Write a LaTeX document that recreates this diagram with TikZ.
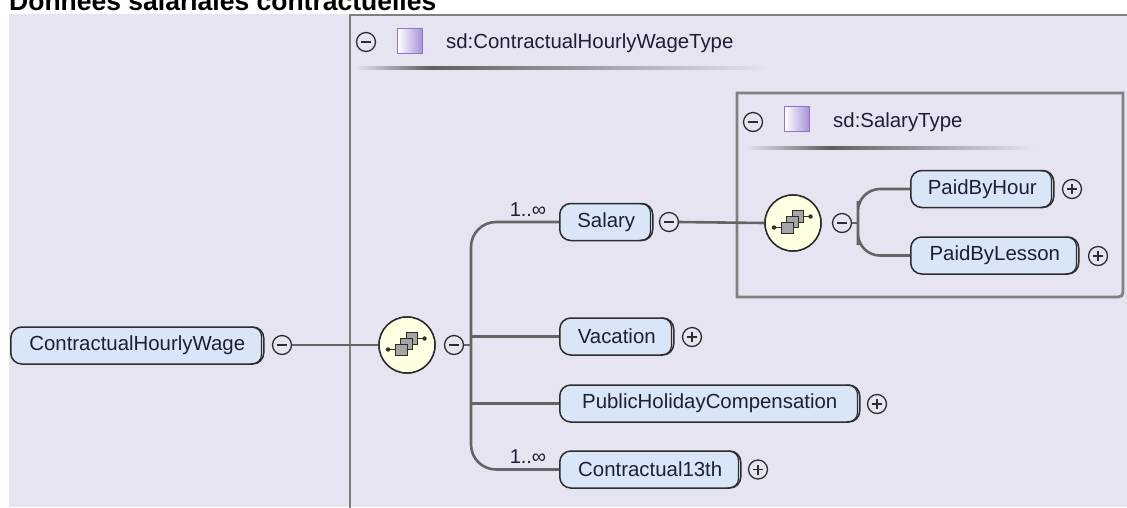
\documentclass[tikz,border=0pt]{standalone}
\usepackage{fontspec}
\setmainfont{Liberation Sans}
\definecolor{bg}{RGB}{231,228,242}
\definecolor{elemfill}{RGB}{217,230,248}
\definecolor{elemline}{RGB}{45,45,45}
\definecolor{connline}{RGB}{100,100,100}
\definecolor{typeline}{RGB}{128,128,128}
\definecolor{compfill}{RGB}{255,255,225}
\definecolor{sqpurple}{RGB}{165,145,215}
\definecolor{sqline}{RGB}{145,115,200}
\definecolor{txt}{RGB}{30,30,55}
\definecolor{icongray}{RGB}{165,165,165}
\definecolor{sepdark}{RGB}{95,95,95}
\tikzset{
 elem/.style={draw=elemline, fill=elemfill, line width=1.5pt, rounded corners=11pt, minimum height=37pt, inner sep=0pt, anchor=west, text=txt, font=\fontsize{20.4}{24}\selectfont},
 conn/.style={draw=connline, line width=2.6pt},
 typebox/.style={draw=typeline, line width=2.8pt},
 toggle/.style={circle, draw=elemline, line width=1.3pt, minimum size=19pt, inner sep=0pt},
 collapse/.style={toggle, path picture={\draw[line width=1.3pt,elemline] ([xshift=-5pt]path picture bounding box.center) -- ([xshift=5pt]path picture bounding box.center);}},
 expand/.style={toggle, path picture={\draw[line width=1.3pt,elemline] ([xshift=-5pt]path picture bounding box.center) -- ([xshift=5pt]path picture bounding box.center) ([yshift=-5pt]path picture bounding box.center) -- ([yshift=5pt]path picture bounding box.center);}},
 comp/.style={circle, draw=elemline, fill=compfill, line width=1.5pt, minimum size=56pt, inner sep=0pt},
 typesq/.style={draw=sqline, line width=1.2pt, left color=white, right color=sqpurple, minimum size=25pt, inner sep=0pt},
 typelabel/.style={anchor=west, text=txt, font=\fontsize{20.4}{24}\selectfont, inner sep=0pt},
 occ/.style={anchor=base, text=txt, font=\fontsize{20}{24}\selectfont, inner sep=0pt},
}
\newcommand\seqicon[1]{%
 \begin{scope}[shift={(#1)}]
  \draw[line width=1.3pt, elemline] (-19,4.5) -- (-9,4.5);
  \draw[line width=1.3pt, elemline] (8,-6.5) -- (17.5,-6.5);
  \fill[elemline] (-19,4.5) circle (2.2pt);
  \fill[elemline] (17.5,-6.5) circle (2.2pt);
  \filldraw[fill=icongray, draw=elemline, line width=1pt] (-1,-12.5) rectangle (10.5,-1);
  \filldraw[fill=icongray, draw=elemline, line width=1pt] (-6.2,-6.8) rectangle (5.3,4.7);
  \filldraw[fill=icongray, draw=elemline, line width=1pt] (-11.5,-1) rectangle (0,10.5);
 \end{scope}}
\newcommand\dblright[1]{%
 \draw[elemline, line width=1.2pt, rounded corners=9pt] ([xshift=-14pt,yshift=-1pt]#1.north east) -- ([xshift=-3pt,yshift=-1pt]#1.north east) -- ([xshift=-3pt,yshift=1pt]#1.south east) -- ([xshift=-14pt,yshift=1pt]#1.south east);}
\begin{document}
\begin{tikzpicture}[x=1pt,y=-1pt]
\useasboundingbox (0,0) rectangle (1127,507);
\clip (0,0) rectangle (1127,507);
\fill[white] (0,0) rectangle (1127,507);
\fill[bg] (9,14) rectangle (1127,507);
\node[anchor=base west, inner sep=0pt, font=\bfseries\fontsize{26.5}{30}\selectfont] (title) at (9,10) {Données salariales contractuelles};

% outer type box
\draw[typebox] (350,520) -- (350,15) -- (1140,15);
\node[collapse] (h1minus) at (366,42) {};
\node[typesq] (h1sq) at (410,41) {};
\node[typelabel] (h1lab) at (446,43) {sd:ContractualHourlyWageType};
\shade[left color=bg, right color=sepdark] (355,66.5) rectangle (430,69.5);
\shade[left color=sepdark, right color=bg] (430,66.5) rectangle (770,69.5);

% inner type box
\draw[typebox] (1113,297) -- (737,297) -- (737,93) -- (1123,93) -- (1123,287) .. controls (1123,297) .. (1113,297);
\node[collapse] (h2minus) at (753,122) {};
\node[typesq] (h2sq) at (797,119) {};
\node[typelabel] (h2lab) at (833,122) {sd:SalaryType};
\shade[left color=bg, right color=sepdark] (745,146.5) rectangle (830,149.5);
\shade[left color=sepdark, right color=bg] (830,146.5) rectangle (1035,149.5);

% root element
\node[elem, minimum width=253pt] (chw) at (10,345.5) {ContractualHourlyWage};
\node[collapse] (chwminus) at (282,345) {};
\node[comp] (seq1) at (407,345) {};
\node[collapse] (seq1minus) at (454,345) {};
\coordinate (bus) at (471,345);

% children
\node[elem, minimum width=93pt] (sal) at (559,222) {Salary};
\node[collapse] (salminus) at (669,222) {};
\node[occ] (salocc) at (528,216) {1..∞};
\node[elem, minimum width=114pt] (vac) at (559,336.5) {Vacation};
\node[expand] (vacplus) at (692,337) {};
\node[elem, minimum width=300pt] (phc) at (559,403.5) {PublicHolidayCompensation};
\node[expand] (phcplus) at (877,404) {};
\node[elem, minimum width=181pt] (c13) at (559,469.5) {Contractual13th};
\node[expand] (c13plus) at (758,469.5) {};
\node[occ] (c13occ) at (528,463) {1..∞};

% salary type content
\node[comp] (seq2) at (793,223) {};
\node[collapse] (seq2minus) at (842,223) {};
\coordinate (bus2) at (858,223);
\node[elem, minimum width=143pt] (pbh) at (910,189) {PaidByHour};
\node[expand] (pbhplus) at (1072,189) {};
\node[elem, minimum width=168pt] (pbl) at (910,255.5) {PaidByLesson};
\node[expand] (pblplus) at (1098,256) {};

\dblright{chw}
\dblright{sal}
\dblright{vac}
\dblright{phc}
\dblright{c13}
\dblright{pbh}
\dblright{pbl}

% connectors
\draw[conn] (chwminus.east) -- (seq1.west);
\draw[conn] (seq1minus.east) -- (bus);
\draw[conn, rounded corners=25pt] (sal.west) -| (bus) |- (c13.west);
\draw[conn] (vac.west) -- (vac.west -| bus);
\draw[conn] (phc.west) -- (phc.west -| bus);
\draw[conn] (salminus.east) -- (seq2.west);
\draw[conn] (seq2minus.east) -- (bus2);
\draw[conn, rounded corners=22pt] (pbh.west) -| (bus2) |- (pbl.west);

% compositor icons on top
\node[comp] at (seq1) {};
\node[comp] at (seq2) {};
\seqicon{seq1}
\seqicon{seq2}
\end{tikzpicture}
\end{document}
